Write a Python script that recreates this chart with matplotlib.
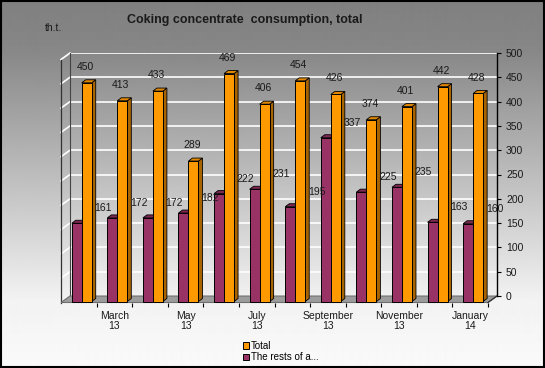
import numpy as np
import matplotlib.pyplot as plt
from matplotlib.patches import Polygon, Rectangle

plt.rcParams['font.family'] = ['Liberation Sans', 'DejaVu Sans']

# data
months = ['February\n13', 'March\n13', 'April\n13', 'May\n13', 'June\n13', 'July\n13',
          'August\n13', 'September\n13', 'October\n13', 'November\n13', 'December\n13', 'January\n14']
total = [450, 413, 433, 289, 469, 406, 454, 426, 374, 401, 442, 428]
rests = [161, 172, 172, 182, 222, 231, 195, 337, 225, 235, 163, 160]
shown = [m if i % 2 == 1 else '' for i, m in enumerate(months)]

W, H = 545, 368
fig = plt.figure(figsize=(W / 100, H / 100), dpi=100)

# background gradient
bg = fig.add_axes([0, 0, 1, 1], zorder=-5)
yy = np.arange(H)
shade = np.interp(yy, [0, 50, 300, 368], [0.5, 0.53, 0.95, 0.98])
bg.imshow(shade[:, None], cmap='gray', vmin=0, vmax=1, aspect='auto',
          extent=[0, W, H, 0], interpolation='bilinear')
bg.set_xlim(0, W)
bg.set_ylim(H, 0)
bg.axis('off')
bg.add_patch(Rectangle((0.5, 0.5), W - 2, H - 2, fill=False, ec='black', lw=1.5))

ax = fig.add_axes([70 / W, (H - 296) / H, 427 / W, 243 / H])
ax.set_facecolor('none')
n = len(months)

DX = n / 427.0     # data units per pixel
DY = 500 / 243.0
depth_x, depth_y = 9 * DX, 6.5 * DY

# back wall grid
ax.set_yticks(range(0, 501, 50))
ax.yaxis.grid(True, color='white', lw=1.2, zorder=0)
ax.set_axisbelow(True)
for v in range(50, 501, 50):
    ax.plot([-depth_x, 0], [v - depth_y, v], color='white', lw=1.2, clip_on=False, zorder=1)
ax.plot([0, 0], [0, 500], color='#444444', lw=0.8, clip_on=False, zorder=1)
ax.plot([-depth_x, -depth_x], [-depth_y, 500 - depth_y], color='#333333', lw=0.9,
        clip_on=False, zorder=1)

# floor
floor = Polygon([(0, 0), (n, 0), (n - depth_x, -depth_y), (-depth_x, -depth_y)],
                closed=True, fc='#9c9c9c', ec='#6e6e6e', lw=0.8, clip_on=False, zorder=1)
ax.add_patch(floor)

# bars
fx, fy = -7 * DX, -5.5 * DY
bx, by = 4 * DX, 3 * DY
bw = 10 * DX
styles = {
    'rests': ('#993366', '#7d2752', '#5e1c3d'),
    'total': ('#ff9900', '#e08700', '#a86400'),
}


def bar3d(x0, v, key, z):
    front, top, side = styles[key]
    x0 = x0 + fx
    y0, y1 = fy, v + fy
    ax.add_patch(Polygon([(x0 + bw, y0), (x0 + bw + bx, y0 + by), (x0 + bw + bx, y1 + by),
                          (x0 + bw, y1)], fc=side, ec='black', lw=0.6, clip_on=False, zorder=z))
    ax.add_patch(Polygon([(x0, y1), (x0 + bw, y1), (x0 + bw + bx, y1 + by), (x0 + bx, y1 + by)],
                         fc=top, ec='black', lw=0.6, clip_on=False, zorder=z))
    r = Rectangle((x0, y0), bw, v, fc=front, ec='black', lw=0.7, clip_on=False, zorder=z)
    ax.add_patch(r)
    return r


for i in range(n):
    hp = bar3d(i + 0.245, rests[i], 'rests', 3 + 2 * i)
    ho = bar3d(i + 0.526, total[i], 'total', 4 + 2 * i)
    ax.annotate(str(rests[i]), (i + 0.245 + fx + bw / 2, rests[i] + fy),
                xytext=(19, 10.8), textcoords='offset points', ha='center', va='center',
                fontsize=7.5, color='#1a1a1a', zorder=40, annotation_clip=False)
    ax.annotate(str(total[i]), (i + 0.526 + fx + bw / 2, total[i] + fy),
                xytext=(-1, 11.5), textcoords='offset points', ha='center', va='center',
                fontsize=7.5, color='#1a1a1a', zorder=40, annotation_clip=False)

# right side edge of floor
ax.plot([n, n - depth_x], [0, -depth_y], color='#333333', lw=0.9, clip_on=False, zorder=2)

# axes styling
for s in ['left', 'top']:
    ax.spines[s].set_visible(False)
ax.spines['right'].set_color('black')
ax.spines['right'].set_linewidth(1)
ax.spines['bottom'].set_position(('data', -depth_y))
ax.spines['bottom'].set_visible(False)
ax.yaxis.tick_right()
ax.tick_params(axis='y', length=3, width=0.8, pad=3.5, labelsize=7.5, labelcolor='#1a1a1a')
ax.set_xticks([i + 0.5 - depth_x for i in range(n)])
ax.set_xticklabels(shown, fontsize=7.5, color='#1a1a1a', linespacing=1.0)
ax.set_xticks([i - depth_x for i in range(n + 1)], minor=True)
ax.tick_params(axis='x', which='major', length=0, pad=6)
ax.tick_params(axis='x', which='minor', length=3, width=0.8, direction='out', color='black')
ax.set_xlim(0, n)
ax.set_ylim(0, 500)

# titles
fig.text(245 / W, 1 - 20 / H, 'Coking concentrate  consumption, total', ha='center',
         va='center', fontsize=9, fontweight='bold', color='#1a1a1a')
fig.text(45 / W, 1 - 28 / H, 'th.t.', ha='left', va='center', fontsize=7.5, color='#1a1a1a')

# legend
leg = fig.legend([ho, hp], ['Total', 'The rests of a...'], loc='upper left',
                 bbox_to_anchor=(243 / W, 1 - 341 / H), frameon=False, fontsize=7,
                 handlelength=0.6, handleheight=0.6, handletextpad=0.25,
                 labelspacing=0.15, borderpad=0, borderaxespad=0)

fig.savefig('out.png', dpi=100)
